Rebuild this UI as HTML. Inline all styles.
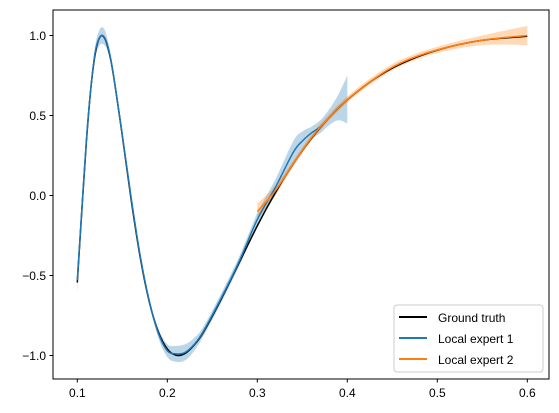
<!DOCTYPE html>
<html><head><meta charset="utf-8"><style>
body{margin:0;background:#fff;}
svg{display:block;font-family:"Liberation Sans","DejaVu Sans",sans-serif;}
</style></head><body>
<svg id="chart" width="559" height="413">
<g id="bands"></g><g id="lines"></g>
<rect x="53" y="10" width="496" height="369" fill="none" stroke="#000" stroke-width="1"/>
<g id="ticks"></g>
<g>
<rect x="394" y="305" width="149" height="67" rx="3" fill="#fff" fill-opacity="0.8" stroke="#ccc"/>
<line x1="399" y1="317" x2="427" y2="317" stroke="#000" stroke-width="2"/>
<text x="438" y="322" font-size="12">Ground truth</text>
<line x1="399" y1="338" x2="427" y2="338" stroke="#1f77b4" stroke-width="2"/>
<text x="438" y="343" font-size="12">Local expert 1</text>
<line x1="399" y1="359" x2="427" y2="359" stroke="#ff7f0e" stroke-width="2"/>
<text x="438" y="364" font-size="12">Local expert 2</text>
</g>
</svg>
<script>
const gtX=[0.1,0.105,0.11,0.115,0.12,0.125,0.13,0.135,0.14,0.15,0.16,0.17,0.18,0.19,0.2,0.21,0.22,0.23,0.24,0.26,0.28,0.3,0.32,0.34,0.36,0.38,0.4,0.43,0.46,0.5,0.55,0.6];
const gtY=[-0.544,-0.099,0.328,0.666,0.888,0.989,0.987,0.902,0.757,0.374,-0.033,-0.39,-0.665,-0.852,-0.959,-0.999,-0.986,-0.934,-0.856,-0.647,-0.418,-0.19,0.017,0.199,0.356,0.488,0.598,0.728,0.824,0.909,0.97,0.995];
const e1X=[0.1,0.105,0.11,0.115,0.12,0.125,0.13,0.135,0.14,0.15,0.16,0.17,0.18,0.19,0.2,0.21,0.22,0.23,0.24,0.26,0.28,0.3,0.32,0.34,0.35,0.36,0.37,0.38,0.39,0.4];
const e1Y=[-0.53,-0.09,0.34,0.67,0.9,0.99,0.99,0.91,0.76,0.38,-0.02,-0.38,-0.66,-0.86,-0.97,-0.99,-0.98,-0.93,-0.85,-0.64,-0.41,-0.15,0.05,0.27,0.34,0.39,0.43,0.49,0.55,0.6];
const e1S=[0.08,0.03,0.03,0.03,0.04,0.05,0.05,0.03,0.02,0.02,0.02,0.02,0.02,0.03,0.04,0.05,0.05,0.04,0.03,0.03,0.03,0.04,0.05,0.07,0.06,0.04,0.04,0.05,0.08,0.15];
const e2X=[0.3,0.32,0.34,0.36,0.38,0.4,0.43,0.46,0.5,0.55,0.6];
const e2Y=[-0.1,0.03,0.2,0.36,0.49,0.6,0.73,0.83,0.91,0.97,1.0];
const e2S=[0.05,0.03,0.02,0.02,0.02,0.02,0.02,0.02,0.02,0.03,0.06];
const xTicks=[0.1,0.2,0.3,0.4,0.5,0.6];
const yTicks=[-1.0,-0.5,0.0,0.5,1.0];
const NS="http://www.w3.org/2000/svg";
const sx=v=>77.3+(v-0.1)*900;
const sy=v=>195.5-v*160;
function smooth(pts,start){
 let d=start?'M'+pts[0][0].toFixed(1)+','+pts[0][1].toFixed(1):'L'+pts[0][0].toFixed(1)+','+pts[0][1].toFixed(1);
 for(let i=0;i<pts.length-1;i++){
  const p0=pts[Math.max(i-1,0)],p1=pts[i],p2=pts[i+1],p3=pts[Math.min(i+2,pts.length-1)];
  const c1=[p1[0]+(p2[0]-p0[0])/6,p1[1]+(p2[1]-p0[1])/6],c2=[p2[0]-(p3[0]-p1[0])/6,p2[1]-(p3[1]-p1[1])/6];
  d+='C'+c1.map(v=>v.toFixed(1)).join(',')+' '+c2.map(v=>v.toFixed(1)).join(',')+' '+p2.map(v=>v.toFixed(1)).join(',');
 }
 return d;}
function path(xs,ys){return smooth(xs.map((x,i)=>[sx(x),sy(ys[i])]),true);}
function band(xs,ys,ss){
 const up=xs.map((x,i)=>[sx(x),sy(ys[i]+ss[i])]);
 const lo=xs.map((x,i)=>[sx(x),sy(ys[i]-ss[i])]).reverse();
 return smooth(up,true)+smooth(lo,false)+'Z';}
const bands=document.getElementById('bands'),lines=document.getElementById('lines'),ticks=document.getElementById('ticks');
function mk(tag,attrs,parent){const e=document.createElementNS(NS,tag);for(const k in attrs)e.setAttribute(k,attrs[k]);parent.appendChild(e);return e;}
let b1=mk('path',{d:band(e1X,e1Y,e1S),fill:'#1f77b4','fill-opacity':0.3},bands);


let b2=mk('path',{d:band(e2X,e2Y,e2S),fill:'#ff7f0e','fill-opacity':0.3},bands);


let g=mk('path',{d:path(gtX,gtY),fill:'none',stroke:'#000','stroke-width':1.5,'stroke-linejoin':'round'},lines);


let l1=mk('path',{d:path(e1X,e1Y),fill:'none',stroke:'#1f77b4','stroke-width':1.5,'stroke-linejoin':'round'},lines);


let l2=mk('path',{d:path(e2X,e2Y),fill:'none',stroke:'#ff7f0e','stroke-width':1.5,'stroke-linejoin':'round'},lines);


xTicks.forEach(t=>{const x=sx(t);
 mk('line',{x1:x,x2:x,y1:379,y2:382.5,stroke:'#000'},ticks);
 const tx=mk('text',{x:x,y:397,'font-size':12,'text-anchor':'middle'},ticks);tx.textContent=t.toFixed(1);
 
 });
yTicks.forEach(t=>{const y=sy(t);
 mk('line',{x1:49.5,x2:53,y1:y,y2:y,stroke:'#000'},ticks);
 const tx=mk('text',{x:46,y:y+4.3,'font-size':12,'text-anchor':'end'},ticks);tx.textContent=(t<0?'\u2212':'')+Math.abs(t).toFixed(1);
 
 });
</script>
</body></html>
